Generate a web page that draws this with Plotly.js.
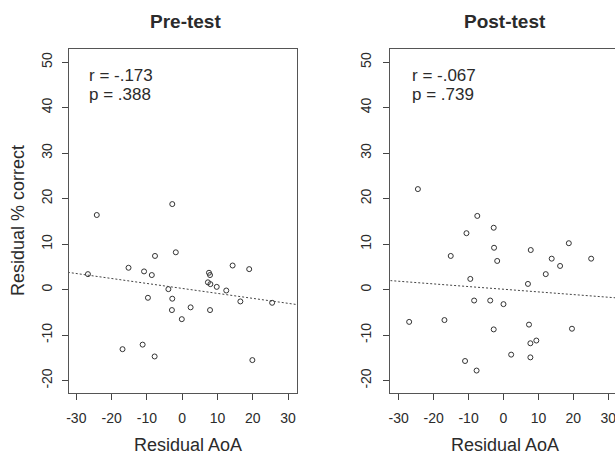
<!DOCTYPE html>
<html>
<head>
<meta charset="utf-8">
<script src="https://cdn.plot.ly/plotly-3.0.1.min.js"></script>
<style>html,body{margin:0;padding:0;background:#fff;}#chart{width:615px;height:454px;}</style>
</head>
<body>
<div id="chart"></div>
<script>
// Pre-test residuals
var preAoA = [-26.7, -24.2, -15.2, -10.8, -8.6, -7.7, -2.8, -1.8, -9.7, -3.9, -2.8, -2.9, 2.4, -0.1,
  -16.9, -11.2, -7.8, 7.6, 7.9, 7.3, 8.0, 9.8, 12.5, 14.3, 19.0, 16.5, 7.9, 25.5, 19.9];
var preCorrect = [3.4, 16.4, 4.8, 4.0, 3.2, 7.4, 18.8, 8.2, -1.8, 0.1, -2.0, -4.5, -3.9, -6.5,
  -13.1, -12.1, -14.7, 3.7, 3.2, 1.6, 1.2, 0.6, -0.2, 5.3, 4.5, -2.6, -4.5, -2.9, -15.5];
// Post-test residuals
var postAoA = [-24.5, -7.5, -10.6, -2.8, -2.7, -1.8, -15.1, 7.8, 18.7, 13.8, 16.2, 25.1, 12.1, 7.0,
  -9.5, -8.4, -3.8, 0.0, -27.0, -16.9, -2.8, 7.3, 19.6, 7.7, 9.4, 2.2, 7.7, -11.0, -7.7];
var postCorrect = [22.1, 16.2, 12.4, 13.6, 9.2, 6.3, 7.4, 8.7, 10.2, 6.8, 5.2, 6.8, 3.4, 1.25,
  2.35, -2.4, -2.4, -3.2, -7.1, -6.7, -8.75, -7.7, -8.6, -11.8, -11.2, -14.3, -14.9, -15.7, -17.8];
// Fitted lines (end points)
var preFitX = [-32.4, 32.6];
var preFitY = [3.8, -3.3];
var postFitX = [-32.4, 32.4];
var postFitY = [1.98, -1.82];
// Statistics text
var preStats = ["r = -.173", "p = .388"];
var postStats = ["r = -.067", "p = .739"];
var panelTitles = ["Pre-test", "Post-test"];
var xTitle = "Residual AoA";
var yTitle = "Residual % correct";
var xTicks = [-30, -20, -10, 0, 10, 20, 30];
var xTickText = ["-30", "-20", "-10", "0", "10", "20", "30"];
var yTicks = [-20, -10, 0, 10, 20, 30, 40, 50];
var yTickText = ["-20", "-10", "0", "10", "20", "30", "40", "50"];

var ink = "#2b2b2b";
var fontFam = "Liberation Sans, Arial, sans-serif";

var traces = [
  {x: preAoA, y: preCorrect, type: "scatter", mode: "markers", xaxis: "x", yaxis: "y",
   marker: {symbol: "circle-open", size: 5, color: "#333", line: {width: 1, color: "#333"}}, hoverinfo: "none"},
  {x: preFitX, y: preFitY, type: "scatter", mode: "lines", xaxis: "x", yaxis: "y",
   line: {color: "#444", width: 1, dash: "2px,2px"}, hoverinfo: "none"},
  {x: postAoA, y: postCorrect, type: "scatter", mode: "markers", xaxis: "x2", yaxis: "y2",
   marker: {symbol: "circle-open", size: 5, color: "#333", line: {width: 1, color: "#333"}}, hoverinfo: "none"},
  {x: postFitX, y: postFitY, type: "scatter", mode: "lines", xaxis: "x2", yaxis: "y2",
   line: {color: "#444", width: 1, dash: "2px,2px"}, hoverinfo: "none"}
];

function xax(domain, range, anchor) {
  return {domain: domain, range: range, anchor: anchor, tickmode: "array", tickvals: xTicks, ticktext: xTickText,
    ticks: "outside", ticklen: 6, tickcolor: "#444", tickwidth: 1, showline: true, mirror: true,
    linecolor: "#555", linewidth: 1, showgrid: false, zeroline: false, ticklabelstandoff: 6,
    ticklabeloverflow: "allow", tickfont: {family: fontFam, size: 14, color: ink}};
}
function yax(domain, anchor, standoff) {
  return {domain: domain, range: [-22.8, 52.9], anchor: anchor, tickmode: "array", tickvals: yTicks, ticktext: yTickText,
    ticks: "outside", ticklen: 6, tickcolor: "#444", tickwidth: 1, showline: true, mirror: true,
    linecolor: "#555", linewidth: 1, showgrid: false, zeroline: false, tickangle: -90,
    ticklabelstandoff: standoff, ticklabeloverflow: "allow",
    tickfont: {family: fontFam, size: 14, color: ink}};
}

var yDom = [1 - 393.3 / 454, 1 - 49 / 454];
var layout = {
  width: 615, height: 454, margin: {l: 0, r: 0, t: 0, b: 0}, showlegend: false,
  paper_bgcolor: "#fff", plot_bgcolor: "#fff",
  xaxis: xax([69 / 615, 297 / 615], [-32.07, 32.55], "y"),
  yaxis: yax(yDom, "x", 4),
  xaxis2: xax([390.3 / 615, 1], [-32.4, 31.92], "y2"),
  yaxis2: yax(yDom, "x2", 7),
  annotations: [
    {text: "<b>" + panelTitles[0] + "</b>", xref: "paper", yref: "paper", x: 185 / 615, y: 1 - 21 / 454,
     xanchor: "center", yanchor: "middle", showarrow: false, font: {family: fontFam, size: 19, color: ink}},
    {text: "<b>" + panelTitles[1] + "</b>", xref: "paper", yref: "paper", x: 505 / 615, y: 1 - 21 / 454,
     xanchor: "center", yanchor: "middle", showarrow: false, font: {family: fontFam, size: 19, color: ink}},
    {text: xTitle, xref: "paper", yref: "paper", x: 187.5 / 615, y: 1 - 445 / 454,
     xanchor: "center", yanchor: "middle", showarrow: false, font: {family: fontFam, size: 18, color: ink}},
    {text: xTitle, xref: "paper", yref: "paper", x: 505 / 615, y: 1 - 445 / 454,
     xanchor: "center", yanchor: "middle", showarrow: false, font: {family: fontFam, size: 18, color: ink}},
    {text: yTitle, xref: "paper", yref: "paper", x: 18 / 615, y: 1 - 221 / 454, textangle: -90,
     xanchor: "center", yanchor: "middle", showarrow: false, font: {family: fontFam, size: 18, color: ink}},
    {text: preStats[0], xref: "paper", yref: "paper", x: 87 / 615, y: 1 - 75.5 / 454,
     xanchor: "left", yanchor: "middle", showarrow: false, font: {family: fontFam, size: 17, color: ink}},
    {text: preStats[1], xref: "paper", yref: "paper", x: 87 / 615, y: 1 - 94 / 454,
     xanchor: "left", yanchor: "middle", showarrow: false, font: {family: fontFam, size: 17, color: ink}},
    {text: postStats[0], xref: "paper", yref: "paper", x: 409.5 / 615, y: 1 - 75 / 454,
     xanchor: "left", yanchor: "middle", showarrow: false, font: {family: fontFam, size: 17, color: ink}},
    {text: postStats[1], xref: "paper", yref: "paper", x: 409.5 / 615, y: 1 - 95 / 454,
     xanchor: "left", yanchor: "middle", showarrow: false, font: {family: fontFam, size: 17, color: ink}}
  ]
};

Plotly.newPlot("chart", traces, layout, {staticPlot: true, displayModeBar: false});
</script>
</body>
</html>
